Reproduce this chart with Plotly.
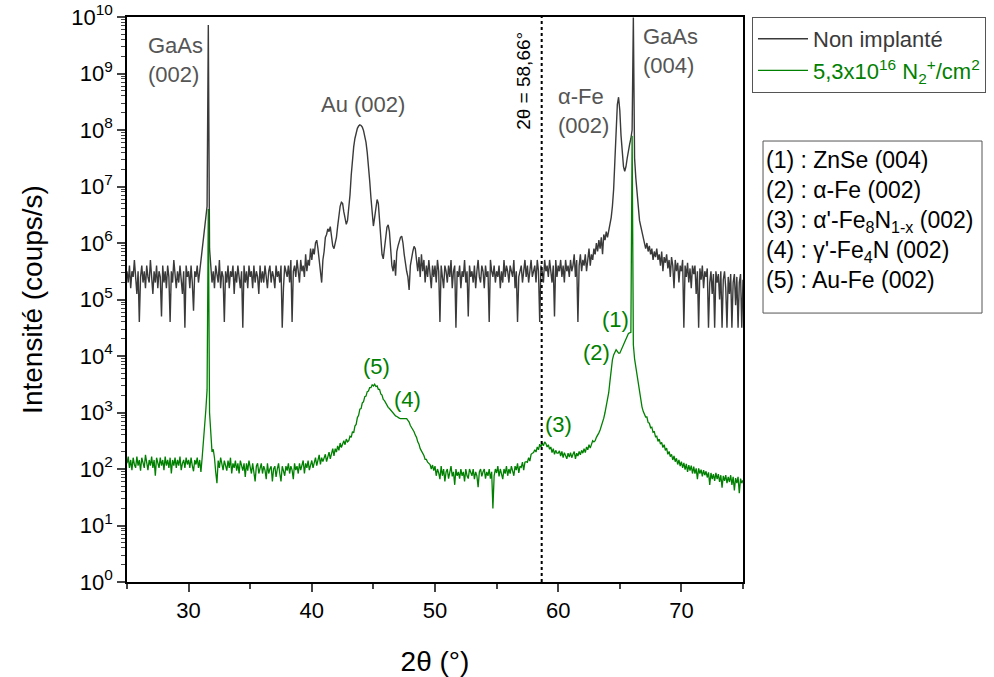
import plotly.graph_objects as go

# 2theta scan: start angle and step (deg)
x_start = 25.0
x_step = 0.1

# log10 of intensity (coups/s), one row per degree
grey_log10 = [
    5.5, 5.3, 5.6, 5.2, 5.5, 5.4, 5.7, 5.3, 5.1, 5.5,       # 25
    4.6, 5.4, 5.6, 5.3, 5.5, 5.2, 5.6, 5.4, 5.3, 5.7,       # 26
    5.4, 5.1, 5.5, 5.3, 5.6, 5.2, 5.5, 5.4, 4.7, 5.6,       # 27
    5.3, 5.5, 5.2, 5.6, 5.4, 4.6, 5.5, 5.3, 5.7, 5.4,       # 28
    5.2, 5.5, 5.3, 5.6, 5.4, 5.1, 5.5, 4.5, 5.6, 5.4,       # 29
    5.5, 5.2, 5.6, 5.3, 4.8, 5.5, 5.4, 5.6, 5.3, 5.5,       # 30
    5.6, 5.8, 6.0, 6.2, 6.4, 6.65, 9.86, 5.9, 5.6, 5.3,     # 31
    5.5, 5.2, 5.6, 5.4, 5.3, 5.7, 5.2, 5.5, 5.4, 4.6,       # 32
    5.5, 5.3, 5.6, 5.2, 5.5, 5.4, 5.6, 5.1, 5.5, 5.3,       # 33
    5.6, 5.4, 5.2, 5.5, 4.5, 5.6, 5.3, 5.5, 5.2, 5.6,       # 34
    5.4, 5.5, 5.2, 5.6, 5.3, 5.5, 5.4, 5.1, 5.6, 5.3,       # 35
    5.5, 5.3, 5.6, 5.4, 5.2, 5.5, 5.6, 5.3, 5.5, 5.4,       # 36
    5.2, 5.6, 5.4, 5.5, 5.3, 5.6, 4.5, 5.2, 5.6, 5.5,       # 37
    5.4, 5.6, 5.3, 5.7, 4.6, 5.5, 5.6, 5.4, 5.7, 5.5,       # 38
    5.3, 5.7, 5.5, 5.6, 5.4, 5.8, 5.5, 5.7, 5.6, 5.9,       # 39
    5.7, 5.9, 5.8, 6.0, 6.05, 5.9, 5.7, 5.5, 5.3, 5.7,      # 40
    5.85, 6.1, 6.15, 6.25, 6.2, 6.29, 6.1, 5.95, 5.9, 5.98, # 41
    6.1, 6.3, 6.5, 6.65, 6.72, 6.7, 6.55, 6.4, 6.33, 6.4,   # 42
    6.6, 6.85, 7.2, 7.5, 7.7, 7.85, 7.96, 8.03, 8.07, 8.09, # 43
    8.08, 8.05, 7.99, 7.9, 7.78, 7.6, 7.38, 7.1, 6.8, 6.5,  # 44
    6.3, 6.45, 6.65, 6.77, 6.7, 6.45, 6.1, 5.8, 5.72, 5.95, # 45
    6.15, 6.28, 6.32, 6.2, 5.9, 5.6, 5.5, 5.7, 5.42, 5.85,  # 46
    5.95, 6.05, 6.1, 6.12, 6.0, 5.8, 5.6, 5.5, 5.4, 5.17,   # 47
    5.6, 5.75, 5.85, 5.94, 5.9, 5.7, 5.5, 5.75, 5.4, 5.8,   # 48
    5.5, 5.7, 5.3, 5.6, 5.4, 5.7, 5.5, 5.2, 5.6, 5.4,       # 49
    5.6, 5.3, 5.7, 5.5, 4.6, 5.6, 5.4, 5.2, 5.6, 5.5,       # 50
    5.3, 5.6, 5.4, 5.7, 5.2, 5.5, 5.6, 4.5, 5.5, 5.4,       # 51
    5.6, 5.2, 5.5, 5.4, 5.7, 5.3, 5.5, 4.7, 5.6, 5.4,       # 52
    5.5, 5.3, 5.6, 5.2, 5.5, 5.7, 5.4, 5.3, 5.6, 5.5,       # 53
    5.2, 5.6, 5.4, 5.5, 4.6, 5.7, 5.5, 5.4, 5.6, 5.3,       # 54
    5.5, 5.4, 5.6, 5.2, 5.5, 5.3, 5.7, 5.4, 5.6, 5.5,       # 55
    5.3, 5.6, 5.5, 5.4, 5.7, 5.2, 5.5, 4.6, 5.4, 5.5,       # 56
    5.6, 5.3, 5.5, 5.7, 5.4, 5.6, 5.3, 5.5, 5.7, 5.4,       # 57
    5.5, 5.6, 5.3, 5.7, 5.5, 4.6, 5.6, 5.5, 5.3, 5.7,       # 58
    5.5, 5.6, 5.4, 5.7, 5.5, 5.3, 5.6, 4.7, 5.7, 5.4,       # 59
    5.6, 5.5, 5.7, 5.4, 5.6, 5.3, 5.7, 5.5, 5.6, 5.4,       # 60
    5.7, 5.5, 5.6, 5.8, 5.4, 5.7, 4.6, 5.6, 5.8, 5.5,       # 61
    5.7, 5.6, 5.8, 5.5, 5.7, 5.9, 5.6, 5.8, 5.7, 5.9,       # 62
    5.8, 6.0, 5.85, 6.05, 5.9, 6.1, 5.8, 6.15, 6.05, 6.2,   # 63
    6.1, 6.2, 6.3, 6.45, 6.65, 6.95, 7.45, 8.05, 8.45, 8.58,  # 64
    8.35, 7.9, 7.55, 7.35, 7.27, 7.35, 7.5, 7.65, 7.75, 7.85, # 65
    8.0, 9.99, 7.5, 7.15, 6.85, 6.55, 6.4, 6.3, 6.2, 6.1,   # 66
    6.05, 5.9, 6.0, 5.85, 5.95, 5.8, 5.9, 5.7, 5.85, 5.75,  # 67
    5.9, 5.7, 5.8, 5.6, 5.85, 5.5, 5.75, 5.65, 5.8, 5.55,   # 68
    5.7, 5.4, 5.75, 5.6, 5.2, 5.7, 5.5, 5.65, 5.3, 5.6,     # 69
    5.5, 5.7, 4.5, 5.6, 5.4, 5.65, 5.3, 5.55, 5.2, 5.6,     # 70
    5.45, 5.6, 5.1, 5.5, 4.5, 5.55, 5.35, 5.6, 5.2, 5.5,    # 71
    5.4, 5.55, 4.5, 5.3, 5.5, 5.1, 5.45, 4.5, 5.5, 5.3,     # 72
    5.45, 5.0, 5.5, 4.5, 5.35, 5.5, 5.2, 4.5, 5.4, 5.1,     # 73
    5.45, 4.5, 5.3, 5.45, 4.9, 5.4, 4.5, 5.3, 5.45, 4.5,    # 74
    5.35,                                                   # 75
]

green_log10 = [
    2.1, 2.22, 2.02, 2.16, 1.98, 2.2, 2.08, 2.02, 2.22, 2.06,     # 25
    2.16, 1.97, 2.2, 2.08, 2.02, 2.25, 2.06, 1.98, 2.16, 2.06,    # 26
    2.22, 2.02, 2.16, 1.88, 2.2, 2.08, 2.02, 2.2, 2.06, 2.16,     # 27
    1.98, 2.22, 2.06, 2.16, 2.02, 2.2, 1.92, 2.16, 2.06, 2.2,     # 28
    2.02, 2.16, 2.06, 2.22, 1.98, 2.1, 2.16, 2.02, 2.2, 2.08,     # 29
    2.16, 2.02, 2.2, 2.06, 1.96, 2.16, 2.08, 2.2, 2.02, 2.16,     # 30
    1.95, 2.2, 2.45, 2.8, 3.05, 3.4, 6.6, 3.0, 2.5, 2.3,          # 31
    2.35, 2.2, 1.95, 1.75, 2.15, 2.02, 2.2, 2.08, 1.98, 2.15,     # 32
    2.08, 1.97, 2.15, 2.02, 2.2, 1.92, 2.1, 2.02, 2.15, 1.97,     # 33
    2.1, 1.92, 2.15, 2.02, 1.97, 2.1, 1.86, 2.1, 1.97, 2.15,      # 34
    2.04, 1.92, 2.1, 1.97, 1.78, 2.05, 2.1, 1.92, 2.0, 2.1,       # 35
    1.92, 2.05, 1.98, 1.82, 2.1, 1.92, 2.0, 2.05, 1.78, 2.0,      # 36
    2.05, 1.86, 2.0, 2.1, 1.92, 1.78, 2.05, 1.97, 1.88, 2.05,     # 37
    1.97, 2.1, 1.92, 2.05, 1.98, 1.82, 2.1, 1.98, 2.05, 1.92,     # 38
    2.1, 1.98, 2.05, 2.15, 1.92, 2.1, 2.02, 2.15, 1.98, 2.1,      # 39
    2.15, 2.02, 2.1, 2.2, 2.06, 2.15, 2.25, 2.08, 2.2, 2.13,      # 40
    2.2, 2.26, 2.13, 2.25, 2.3, 2.18, 2.3, 2.36, 2.23, 2.36,      # 41
    2.3, 2.41, 2.33, 2.46, 2.38, 2.46, 2.5, 2.43, 2.53, 2.48,     # 42
    2.5, 2.58, 2.56, 2.66, 2.64, 2.76, 2.79, 2.91, 2.95, 3.06,    # 43
    3.07, 3.17, 3.19, 3.28, 3.29, 3.37, 3.38, 3.44, 3.44, 3.49,   # 44
    3.47, 3.5, 3.46, 3.47, 3.41, 3.41, 3.33, 3.31, 3.23, 3.21,    # 45
    3.16, 3.13, 3.09, 3.07, 3.04, 3.01, 2.99, 2.97, 2.94, 2.93,   # 46
    2.91, 2.9, 2.89, 2.89, 2.89, 2.9, 2.9, 2.89, 2.86, 2.83,      # 47
    2.77, 2.74, 2.69, 2.66, 2.6, 2.56, 2.48, 2.44, 2.36, 2.32,    # 48
    2.26, 2.24, 2.17, 2.17, 2.12, 2.1, 2.08, 2.0, 2.07, 1.97,     # 49
    2.05, 1.88, 2.0, 1.93, 1.82, 2.05, 1.88, 2.0, 1.78, 1.95,     # 50
    2.0, 1.83, 1.95, 2.05, 1.87, 1.95, 1.72, 2.0, 1.88, 1.95,     # 51
    1.83, 2.0, 1.88, 1.95, 1.78, 2.0, 1.88, 1.83, 2.0, 1.93,      # 52
    1.88, 2.0, 1.82, 1.95, 1.88, 1.68, 1.95, 2.0, 1.87, 1.95,     # 53
    2.0, 1.83, 1.95, 1.88, 2.0, 1.83, 1.95, 1.3, 1.88, 2.0,       # 54
    1.93, 2.05, 1.87, 2.0, 1.93, 1.82, 2.0, 1.92, 2.05, 1.88,     # 55
    2.0, 1.92, 2.05, 1.98, 1.88, 2.05, 1.98, 2.1, 1.93, 2.05,     # 56
    2.03, 2.12, 1.98, 2.12, 2.13, 2.12, 2.2, 2.14, 2.26, 2.28,    # 57
    2.29, 2.34, 2.3, 2.39, 2.34, 2.44, 2.39, 2.46, 2.41, 2.48,    # 58
    2.45, 2.39, 2.43, 2.35, 2.39, 2.29, 2.36, 2.26, 2.33, 2.28,   # 59
    2.28, 2.32, 2.23, 2.31, 2.2, 2.29, 2.24, 2.18, 2.28, 2.21,    # 60
    2.29, 2.2, 2.26, 2.31, 2.18, 2.28, 2.23, 2.31, 2.25, 2.33,    # 61
    2.28, 2.36, 2.29, 2.39, 2.34, 2.43, 2.37, 2.46, 2.5, 2.48,    # 62
    2.5, 2.56, 2.59, 2.64, 2.69, 2.75, 2.81, 2.9, 3.0, 3.1,       # 63
    3.2, 3.35, 3.55, 3.78, 3.93, 4.02, 4.08, 4.11, 4.08, 4.05,    # 64
    4.05, 4.1, 4.16, 4.22, 4.27, 4.32, 4.36, 4.4, 4.41, 4.42,     # 65
    7.9, 4.2, 3.95, 3.8, 3.65, 3.48, 3.34, 3.2, 3.1, 3.02,        # 66
    2.98, 2.92, 2.92, 2.82, 2.81, 2.73, 2.74, 2.65, 2.66, 2.57,   # 67
    2.58, 2.49, 2.53, 2.44, 2.47, 2.38, 2.43, 2.33, 2.37, 2.26,   # 68
    2.31, 2.22, 2.26, 2.16, 2.23, 2.13, 2.19, 2.08, 2.16, 2.05,   # 69
    2.13, 2.02, 2.11, 1.99, 2.09, 1.95, 2.07, 1.97, 2.06, 1.92,   # 70
    2.04, 1.92, 2.01, 1.82, 2.01, 1.92, 1.99, 1.87, 1.98, 1.89,   # 71
    1.96, 1.85, 1.94, 1.72, 1.93, 1.82, 1.91, 1.79, 1.93, 1.82,   # 72
    1.91, 1.77, 1.89, 1.67, 1.88, 1.79, 1.89, 1.75, 1.86, 1.77,   # 73
    1.89, 1.72, 1.86, 1.62, 1.84, 1.75, 1.86, 1.57, 1.83, 1.75,   # 74
    1.8,                                                          # 75
]

x_ticks = [30, 40, 50, 60, 70]
x_minor = [25, 35, 45, 55, 65, 75]
y_decades = list(range(0, 11))
marker_angle = 58.66

grey_col = '#3a3a3a'
green_col = '#008000'
font_fam = 'Liberation Sans'

fig = go.Figure()

fig.add_trace(go.Scatter(x0=x_start, dx=x_step, y=[10 ** v for v in grey_log10],
                         mode='lines', name='Non implanté',
                         line=dict(color=grey_col, width=1.4)))
fig.add_trace(go.Scatter(x0=x_start, dx=x_step, y=[10 ** v for v in green_log10],
                         mode='lines',
                         name='<span style="color:#008000">5,3x10<sup>16</sup> N<sub>2</sub><sup>+</sup>/cm<sup>2</sup></span>',
                         line=dict(color=green_col, width=1.3)))

# dotted marker line
fig.add_shape(type='line', x0=marker_angle, x1=marker_angle, y0=0, y1=1,
              xref='x', yref='paper', line=dict(color='black', width=2, dash='dot'))

fig.add_annotation(x=57.22, y=8.87, text='2θ = 58,66°', textangle=-90, showarrow=False,
                   font=dict(size=19, color='black'))

# peak labels (grey)
grey_labels = [
    (28.9, 9.24, 'GaAs<br>(002)', 'center'),
    (44.16, 8.45, 'Au (002)', 'center'),
    (59.85, 8.34, 'α-Fe<br>(002)', 'left'),
    (66.7, 9.40, 'GaAs<br>(004)', 'left'),
]
for x, y, t, anc in grey_labels:
    fig.add_annotation(x=x, y=y, text=t, showarrow=False, xanchor=anc, align='left',
                       font=dict(size=22, color='#555555'))

# peak labels (green)
green_labels = [
    (45.29, 3.81, '(5)'),
    (47.73, 3.23, '(4)'),
    (60.06, 2.78, '(3)'),
    (63.07, 4.07, '(2)'),
    (64.69, 4.64, '(1)'),
]
for x, y, t in green_labels:
    fig.add_annotation(x=x, y=y, text=t, showarrow=False,
                       font=dict(size=22, color=green_col))

# phase key box
fig.add_shape(type='rect', xref='paper', yref='paper', x0=1.0325, x1=1.388, y0=0.476, y1=0.7805,
              line=dict(color='#555555', width=1), fillcolor='rgba(0,0,0,0)')
fig.add_annotation(
    xref='paper', yref='paper', x=1.036, y=0.641, xanchor='left', yanchor='middle',
    text="(1) : ZnSe (004)<br>(2) : α-Fe (002)<br>(3) : α'-Fe<sub>8</sub>N<sub>1-x</sub> (002)"
         "<br>(4) : γ'-Fe<sub>4</sub>N (002)<br>(5) : Au-Fe (002)",
    align='left', showarrow=False, borderpad=0,
    font=dict(size=23, color='black'))

fig.update_layout(
    width=994, height=677,
    margin=dict(l=127, r=251, t=17, b=95, autoexpand=False),
    plot_bgcolor='white', paper_bgcolor='white',
    font=dict(family=font_fam, color='black'),
    legend=dict(x=1.0146, y=1.0, xanchor='left', yanchor='top',
                bordercolor='#555555', borderwidth=1, itemwidth=50,
                font=dict(size=22, color=grey_col), tracegroupgap=0),
    xaxis=dict(range=[25, 75], tickvals=x_ticks, ticks='outside', ticklen=8, tickwidth=1.5,
               showline=True, linecolor='black', linewidth=1.5, mirror=True, automargin=False,
               showgrid=False, zeroline=False, tickfont=dict(size=22),
               minor=dict(tickvals=x_minor, ticks='outside', ticklen=5, tickwidth=1.5),
               title=dict(text='2θ (°)', font=dict(size=28), standoff=32)),
    yaxis=dict(type='log', range=[0, 10],
               tickvals=[10 ** d for d in y_decades],
               ticktext=['10<sup>%d</sup>' % d for d in y_decades],
               ticks='outside', ticklen=8, tickwidth=1.5, automargin=False,
               ticklabeloverflow='allow',
               showline=True, linecolor='black', linewidth=1.5, mirror=True,
               showgrid=False, zeroline=False, tickfont=dict(size=22),
               minor=dict(tickvals=[k * 10 ** d for d in y_decades[:-1] for k in range(2, 10)],
                          ticks='outside', ticklen=4, tickwidth=1),
               title=dict(text='Intensité (coups/s)', font=dict(size=28), standoff=20)),
)

# drop the default 8 px page margin so the figure sits at the window origin
fig.write_html("out.html", config={'displayModeBar': False},
               post_script="document.body.style.margin = '0';")
